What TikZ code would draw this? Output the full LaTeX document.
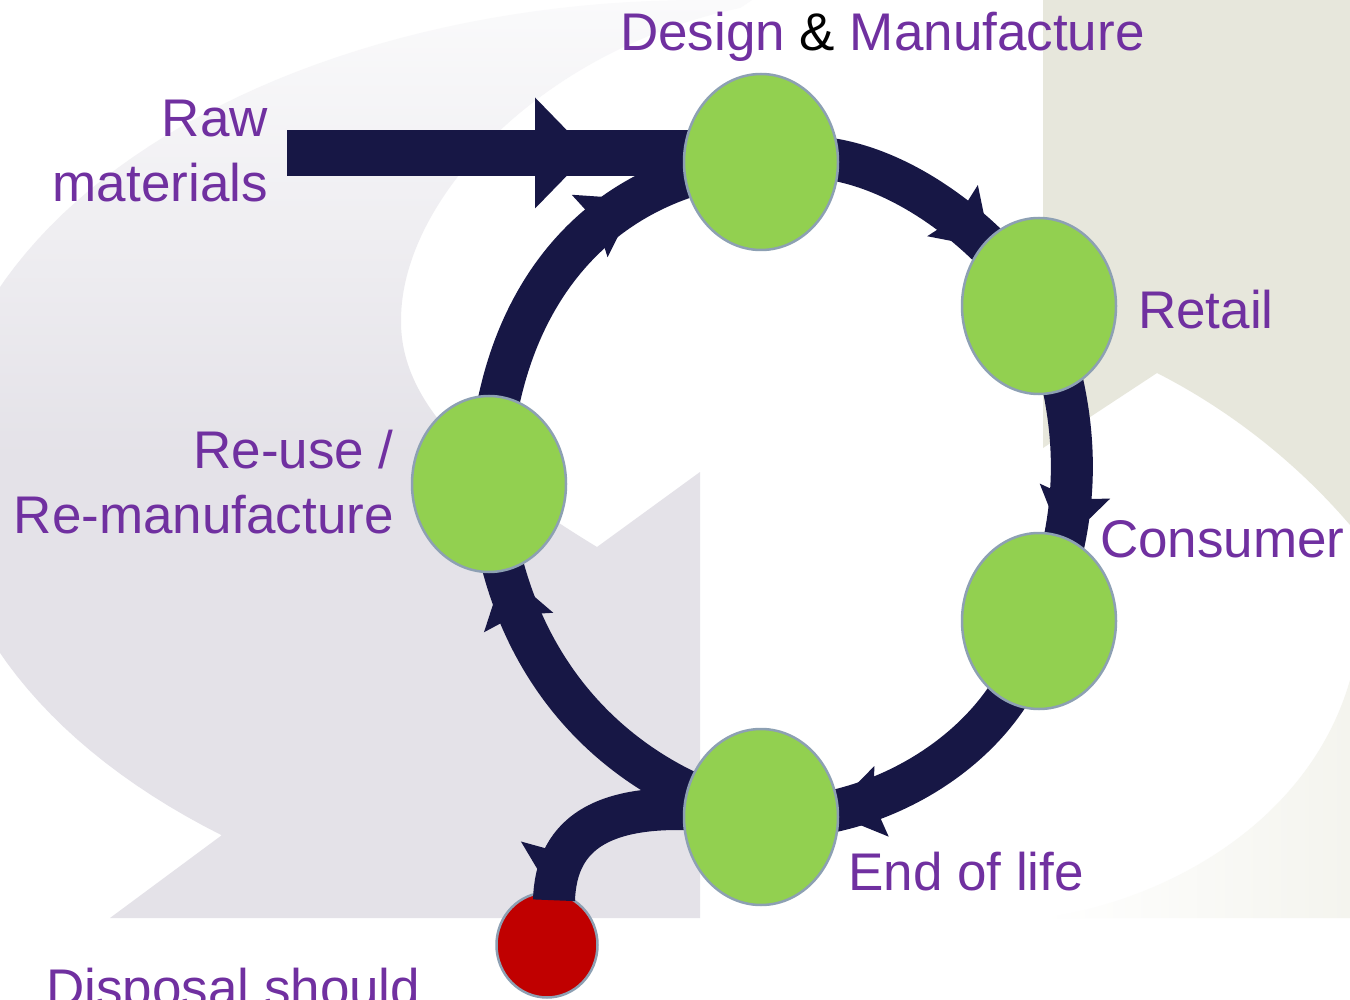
\documentclass[tikz,border=0pt]{standalone}
\usepackage{fontspec}
\setmainfont{Liberation Sans}
\usetikzlibrary{arrows.meta,decorations.markings,calc,shapes.geometric}
\definecolor{navy}{HTML}{171745}
\definecolor{leaf}{HTML}{92D050}
\definecolor{rim}{HTML}{8DA0B3}
\definecolor{plum}{HTML}{7030A0}
\definecolor{blood}{HTML}{C00000}
\definecolor{greyTop}{HTML}{FAFAFB}
\definecolor{greyBot}{HTML}{E4E2E8}
\definecolor{sand}{HTML}{E7E7DC}
\definecolor{sandlight}{HTML}{F4F4EE}
\pgfdeclarelayer{bg}\pgfdeclarelayer{under}\pgfdeclarelayer{flows}
\pgfsetlayers{bg,under,flows,main}
\tikzset{
  hd/.tip={Stealth[length=54pt,width=72pt,inset=8pt,line width=0pt]},
  rawhd/.tip={Triangle[length=54pt,width=111pt,line width=0pt]},
}
\begin{document}
\begin{tikzpicture}[x=1pt,y=-1pt,
  stage/.style={ellipse, fill=leaf, draw=rim, line width=2.5pt, minimum width=154pt, minimum height=176pt, inner sep=0pt},
  sink/.style={ellipse, fill=blood, draw=rim, line width=2.5pt, minimum width=101pt, minimum height=105pt, inner sep=0pt},
  lbl/.style={text=plum, font=\fontsize{53}{64}\selectfont, inner sep=0pt},
  flow/.style={draw, color=navy, line width=42pt},
  mk/.style 2 args={postaction={decorate,decoration={markings,mark=at position #1 with {\arrow{#2}}}}},
]
\useasboundingbox (0,0) rectangle (1350,1000);
\begin{pgfonlayer}{bg}
\fill[white] (0,0) rectangle (1350,1000);
\shade[top color=greyTop, bottom color=greyBot, middle color=greyBot]
  plot[domain=90:231, samples=80] ({700+760*cos(\x)},{470-470*sin(\x)})
  -- (110,918) -- (700,918) -- (700,472) -- (597,547)
  .. controls (470,470) and (400,400) .. (401,320)
  .. controls (401,200) and (540,50) .. (740,8) -- (752,0) -- cycle;
\fill[sand] (1043,0) -- (1350,0) -- (1350,525) .. controls (1290,455) and (1220,405) .. (1157,373) -- (1043,448) -- cycle;
\shade[left color=white, right color=sandlight] (1043,918) .. controls (1170,900) and (1310,820) .. (1350,680) -- (1350,918) -- cycle;
\end{pgfonlayer}

\node[stage] (design) at (761,162) {};
\node[stage] (retail) at (1039,306) {};
\node[stage] (consumer) at (1039,621) {};
\node[stage] (eol) at (761,817) {};
\node[stage] (reuse) at (489,484) {};
\begin{pgfonlayer}{under}
\node[sink] (disposal) at (547,945) {};
\end{pgfonlayer}

\node[lbl, anchor=base west] (tdesign) at (620,51) {Design {\color{black}\&} Manufacture};
\node[lbl, anchor=base east] (traw1) at (268,137) {Raw};
\node[lbl, anchor=base east] (traw2) at (268,202) {materials};
\node[lbl, anchor=base west] (tretail) at (1138,329) {Retail};
\node[lbl, anchor=base east] (treuse1) at (394,468) {Re-use /};
\node[lbl, anchor=base east] (treuse2) at (394,533) {Re-manufacture};
\node[lbl, anchor=base west] (tconsumer) at (1100,557) {Consumer};
\node[lbl, anchor=base west] (teol) at (848,890) {End of life};
\node[lbl, anchor=base west] (tdisp) at (46,1006) {Disposal should};

\begin{pgfonlayer}{flows}
\coordinate (rawin) at (287,153);
\draw[flow, line width=46pt, mk={302pt}{rawhd}] (rawin) -- (rawin -| design.center);
\draw[flow, mk={-75pt}{hd}] (design.center) .. controls (860,135) and (976,214) .. (retail.center);
\draw[flow, mk={-81pt}{hd}] (retail.center) .. controls (1075,400) and (1090,500) .. (consumer.center);
\draw[flow, mk={-68pt}{hd}] (consumer.center) .. controls (1015,745) and (875,825) .. (eol.center);
\draw[flow, mk={-88pt}{hd}] (eol.center) .. controls (640,790) and (505,690) .. (reuse.center);
\draw[flow, mk={-131pt}{hd}] (reuse.center) .. controls (495,295) and (600,175) .. (design.center);
\draw[flow, mk={-3pt}{hd}] (eol.center) .. controls (600,790) and (556,835) .. ($(disposal.north)+(7,9)$);
\end{pgfonlayer}
\end{tikzpicture}
\end{document}
